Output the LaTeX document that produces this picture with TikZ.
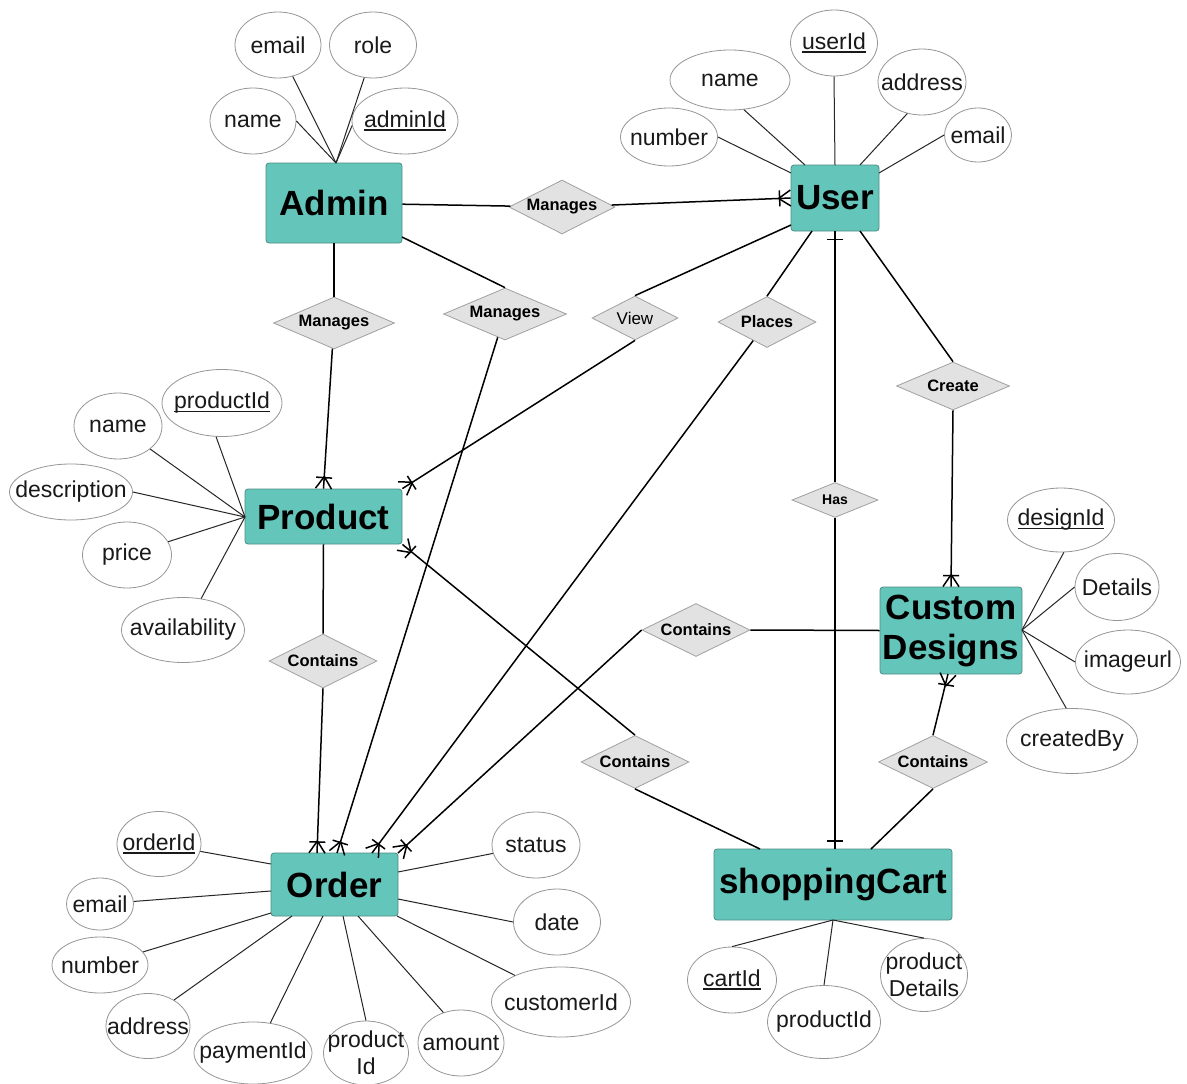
\documentclass[tikz,border=0pt]{standalone}
\usepackage{fontspec}
\setmainfont{Liberation Sans}
\usetikzlibrary{shapes.geometric,calc}
\definecolor{entfill}{RGB}{100,198,187}
\definecolor{entdraw}{RGB}{78,140,133}
\definecolor{relfill}{RGB}{226,226,226}
\definecolor{reldraw}{RGB}{160,160,160}
\definecolor{attdraw}{RGB}{150,150,150}
\newcommand\idul[1]{\setbox0\hbox{#1}\rlap{\rule[-3.5pt]{\wd0}{1.6pt}}\box0}
\newcommand\crowend[2]{%
  \coordinate (cfA) at ($(#1)!12pt!(#2)$);
  \coordinate (cfB) at ($(#1)!11pt!(#2)$);
  \draw[conn] (cfA) -- ($(#1)!8pt!90:(#2)$);
  \draw[conn] (cfA) -- ($(#1)!8pt!-90:(#2)$);
  \draw[conn] ($(cfB)!8pt!90:(#2)$) -- ($(cfB)!8pt!-90:(#2)$);
}
\newcommand\barend[2]{%
  \coordinate (cfB) at ($(#1)!8pt!(#2)$);
  \draw[conn] ($(cfB)!8pt!90:(#2)$) -- ($(cfB)!8pt!-90:(#2)$);
}
\newcommand\attrib[6]{%
  \node[attr, minimum width=#4pt, minimum height=#5pt] (#1) at (#2,#3) {};
  \node[atxt] (#1t) at (#1) {#6};
}
\tikzset{
 entity/.style={rectangle, rounded corners=3pt, fill=entfill, draw=entdraw, line width=0.8pt, inner sep=0pt, font=\fontsize{35}{40}\selectfont\bfseries, align=center},
 rel/.style={diamond, aspect=2, fill=relfill, draw=reldraw, line width=0.8pt, inner sep=0pt, font=\fontsize{16.5}{19}\selectfont\bfseries},
 attr/.style={ellipse, draw=attdraw, fill=white, line width=0.8pt, inner sep=0pt},
 atxt/.style={inner sep=0pt, font=\fontsize{23}{27}\selectfont, align=center, text=black!90},
 conn/.style={draw=black, line width=1.5pt},
 attl/.style={draw=black!85, line width=1pt},
}
\begin{document}
\begin{tikzpicture}[x=1pt,y=-1pt]
\useasboundingbox[fill=white] (0,0) rectangle (1187,1084);
% entities
\node[entity, minimum width=136pt, minimum height=80pt] (admin) at (334,203) {Admin};
\node[entity, minimum width=88pt, minimum height=66pt] (user) at (835,198) {User};
\node[entity, minimum width=157pt, minimum height=55pt] (product) at (323.5,516.5) {Product};
\node[entity, minimum width=142pt, minimum height=87pt] (custom) at (951,630.5) {Custom\\Designs};
\node[entity, minimum width=127pt, minimum height=63pt] (order) at (334.5,884.5) {Order};
\node[entity, minimum width=238pt, minimum height=71pt] (cart) at (833,884.5) {shoppingCart};
% relationships
\node[rel, minimum width=106pt, minimum height=54pt] (man1) at (562,207) {Manages};
\node[rel, minimum width=121pt, minimum height=52pt] (man2) at (334,323) {Manages};
\node[rel, minimum width=123pt, minimum height=52pt] (man3) at (505,314) {Manages};
\node[rel, minimum width=86pt, minimum height=44pt, font=\fontsize{17}{20}\selectfont] (view) at (635,318) {View};
\node[rel, minimum width=98pt, minimum height=51pt] (places) at (767,322) {Places};
\node[rel, minimum width=113pt, minimum height=48pt] (create) at (953,386) {Create};
\node[rel, minimum width=86pt, minimum height=35pt, font=\fontsize{14}{16}\selectfont\bfseries] (has) at (835,500) {Has};
\node[rel, minimum width=108pt, minimum height=54pt] (con1) at (323,661) {Contains};
\node[rel, minimum width=108pt, minimum height=53pt] (con2) at (635,762) {Contains};
\node[rel, minimum width=108pt, minimum height=53pt] (con3) at (696,630) {Contains};
\node[rel, minimum width=109pt, minimum height=53pt] (con4) at (933,762) {Contains};
% attributes: Admin
\attrib{aemail}{278}{45}{86}{66}{email}
\attrib{arole}{373}{45}{87}{66}{role}
\attrib{aname}{253}{121}{86}{66}{name}
\attrib{aid}{405}{121}{106}{66}{\idul{adminId}}
% User
\attrib{uname}{730}{80}{120}{60}{name}
\attrib{uid}{834}{43}{87}{66}{\idul{userId}}
\attrib{uaddr}{922}{82}{88}{66}{address}
\attrib{unum}{669}{137}{97}{58}{number}
\attrib{uemail}{978}{135}{67}{54}{email}
% Product
\attrib{pid}{222}{403}{120}{67}{\idul{productId}}
\attrib{pname}{118}{426}{88}{66}{name}
\attrib{pdesc}{71}{492}{123}{56}{description}
\attrib{pprice}{127}{555}{89}{66}{price}
\attrib{pavail}{183}{630}{123}{65}{availability}
% Custom Designs
\attrib{did}{1061}{520}{107}{64}{\idul{designId}}
\attrib{ddet}{1117}{587}{84}{67}{Details}
\attrib{dimg}{1128}{662}{105}{64}{imageurl}
\attrib{dby}{1072}{741}{131}{65}{createdBy}
% Order
\attrib{oid}{159}{844}{84}{65}{\idul{orderId}}
\attrib{oemail}{100}{904}{67}{52}{email}
\attrib{onum}{100}{965}{96}{56}{number}
\attrib{oaddr}{148}{1026}{84}{65}{address}
\attrib{opay}{253}{1053}{118}{62}{paymentId}
\attrib{oprod}{366}{1053}{85}{64}{product\\Id}
\attrib{oamt}{461}{1043}{86}{66}{amount}
\attrib{ocust}{561}{1002}{139}{70}{customerId}
\attrib{ostatus}{536}{845}{88}{66}{status}
\attrib{odate}{557}{922}{87}{66}{date}
% shoppingCart
\attrib{cid}{732}{980}{89}{66}{\idul{cartId}}
\attrib{cprod}{824}{1022}{113}{73}{productId}
\attrib{cdet}{924}{975}{87}{73}{product\\Details}
% attachment points
\coordinate (admintop) at (336,163);
\coordinate (uA) at (791,173);
\coordinate (uB) at (805,165);
\coordinate (uC) at (835,165);
\coordinate (uD) at (860,165);
\coordinate (uE) at (879,173);
\coordinate (pL) at (245,517);
\coordinate (cR) at (1022,630);
\coordinate (oa1) at (271,864);
\coordinate (oa2) at (271,891);
\coordinate (oa3) at (271,913);
\coordinate (oa4) at (292,916);
\coordinate (oa5) at (323,916);
\coordinate (oa6) at (343,916);
\coordinate (oa7) at (358,916);
\coordinate (oa8) at (397,916);
\coordinate (oa9) at (398,899);
\coordinate (oa10) at (398,872);
\coordinate (cB) at (833,920);
\coordinate (adminBR) at (402,237);
\coordinate (uView) at (791,225);
\coordinate (uPl) at (812,231);
\coordinate (uCr) at (860,231);
\coordinate (o1) at (317,853);
\coordinate (o2) at (337,853);
\coordinate (o3) at (372,853);
\coordinate (o4) at (398,853);
\coordinate (cartHas) at (835,849);
\coordinate (cartC2) at (760,849);
\coordinate (cartC4) at (871,849);
\coordinate (cdB) at (948,674);
% attribute lines
\draw[attl] (aemail.-65) -- (admintop);
\draw[attl] (arole.-105) -- (admintop);
\draw[attl] (aname.east) -- (admintop);
\draw[attl] (aid.185) -- (admintop);
\draw[attl] (unum.east) -- (uA);
\draw[attl] (uname.-65) -- (uB);
\draw[attl] (uid.south) -- (uC);
\draw[attl] (uaddr.-115) -- (uD);
\draw[attl] (uemail.west) -- (uE);
\draw[attl] (pid.-100) -- (pL);
\draw[attl] (pname) -- (pL);
\draw[attl] (pdesc.east) -- (pL);
\draw[attl] (pprice) -- (pL);
\draw[attl] (pavail.60) -- (pL);
\draw[attl] (did.-85) -- (cR);
\draw[attl] (ddet.west) -- (cR);
\draw[attl] (dimg.west) -- (cR);
\draw[attl] (dby.100) -- (cR);
\draw[attl] (oid) -- (oa1);
\draw[attl] (oemail) -- (oa2);
\draw[attl] (onum) -- (oa3);
\draw[attl] (oaddr.45) -- (oa4);
\draw[attl] (opay.60) -- (oa5);
\draw[attl] (oprod.north) -- (oa6);
\draw[attl] (oamt.120) -- (oa7);
\draw[attl] (ocust.150) -- (oa8);
\draw[attl] (odate.west) -- (oa9);
\draw[attl] (ostatus) -- (oa10);
\draw[attl] (cid.north) -- (cB);
\draw[attl] (cprod.north) -- (cB);
\draw[attl] (cdet.north) -- (cB);
% relationship connectors
\draw[conn] (admin) -- (man1);
\draw[conn] (man1) -- (user.west); \crowend{user.west}{man1}
\draw[conn] (admin) -- (man2);
\draw[conn] (man2) -- (product.north); \crowend{product.north}{man2}
\draw[conn] (adminBR) -- (man3.north);
\draw[conn] (man3) -- (o2); \crowend{o2}{man3}
\draw[conn] (uView) -- (view.north);
\draw[conn] (view.south) -- (product.north east); \crowend{product.north east}{view.south}
\draw[conn] (uPl) -- (places.north);
\draw[conn] (places) -- (o3); \crowend{o3}{places}
\draw[conn] (user.south) -- (has.north); \barend{user.south}{has}
\draw[conn] (has.south) -- (cartHas); \barend{cartHas}{has}
\draw[conn] (uCr) -- (create.north);
\draw[conn] (create.south) -- (custom.north); \crowend{custom.north}{create}
\draw[conn] (product.south) -- (con1.north);
\draw[conn] (con1.south) -- (o1); \crowend{o1}{con1}
\draw[conn] (product.south east) -- (con2.north); \crowend{product.south east}{con2}
\draw[conn] (con2.south) -- (cartC2);
\draw[conn] (custom.west) -- (con3.east);
\draw[conn] (con3.west) -- (o4); \crowend{o4}{con3.west}
\draw[conn] (cdB) -- (con4.north); \crowend{cdB}{con4}
\draw[conn] (con4.south) -- (cartC4);
\end{tikzpicture}
\end{document}
